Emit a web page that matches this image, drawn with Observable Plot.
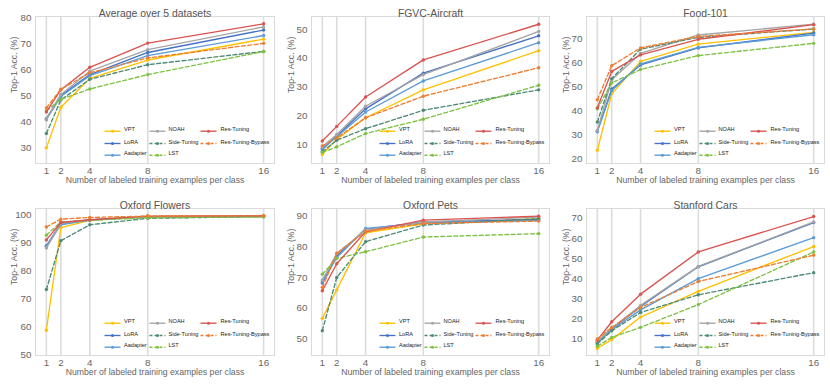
<!DOCTYPE html>
<html><head><meta charset="utf-8">
<script src="https://cdn.jsdelivr.net/npm/d3@7"></script>
<script src="https://cdn.jsdelivr.net/npm/@observablehq/plot@0.6"></script>
<style>
body{margin:0;background:#fff;}
#wrap{position:relative;width:830px;height:385px;font-family:"Liberation Sans",Arial,Helvetica,sans-serif;}
#wrap svg{position:absolute;}
</style></head><body><div id="wrap"></div>
<script>
// ---- data ----
const shots = [1, 2, 4, 8, 16];
const methods = ["VPT", "LoRA", "Aadapter", "NOAH", "Side-Tuning", "LST", "Res-Tuning", "Res-Tuning-Bypass"];
const colors = ["#FFC000", "#4472C4", "#5B9BD5", "#A5A5A5", "#4E8A76", "#7DC242", "#D9534F", "#ED7D31"];
const dashed = [false, false, false, false, true, true, false, true];
const titles = ["Average over 5 datasets", "FGVC-Aircraft", "Food-101", "Oxford Flowers", "Oxford Pets", "Stanford Cars"];
const xLabel = "Number of labeled training examples per class";
const yLabel = "Top-1 Acc. (%)";

// rows follow `methods` order; columns follow `shots`
const avgAcc = [
  [30.0, 45.6, 56.7, 63.7, 71.7],
  [41.2, 50.1, 58.1, 66.6, 75.2],
  [40.8, 49.7, 57.7, 65.4, 73.1],
  [41.0, 50.5, 59.4, 67.7, 76.4],
  [35.5, 48.4, 56.3, 61.9, 67.0],
  [44.2, 48.6, 52.6, 58.1, 67.0],
  [43.8, 52.3, 60.9, 70.2, 77.6],
  [45.3, 52.5, 58.8, 64.5, 70.1]
];
const aircraftAcc = [
  [6.5, 11.8, 19.3, 29.0, 42.6],
  [8.3, 13.0, 22.4, 34.8, 47.8],
  [8.6, 12.7, 21.3, 32.1, 45.4],
  [9.2, 13.5, 23.3, 34.3, 49.3],
  [7.5, 11.5, 15.5, 21.9, 29.0],
  [7.3, 9.2, 13.8, 18.8, 30.6],
  [11.2, 16.3, 26.5, 39.4, 51.8],
  [9.5, 12.3, 19.3, 26.8, 36.7]
];
const foodAcc = [
  [23.6, 47.2, 60.7, 67.9, 72.8],
  [31.6, 49.2, 59.2, 66.3, 72.5],
  [31.3, 48.5, 59.6, 66.5, 71.8],
  [31.9, 53.0, 64.0, 71.7, 76.2],
  [35.4, 53.5, 65.8, 70.7, 74.2],
  [40.9, 51.7, 57.3, 63.1, 68.2],
  [41.3, 56.5, 63.4, 69.9, 76.0],
  [44.7, 58.9, 66.3, 71.1, 74.2]
];
const flowersAcc = [
  [58.9, 95.5, 98.1, 99.4, 99.6],
  [89.0, 96.9, 98.2, 99.4, 99.6],
  [88.8, 96.5, 98.2, 99.4, 99.6],
  [88.2, 97.0, 98.2, 99.3, 99.5],
  [73.4, 90.8, 96.5, 98.8, 99.4],
  [92.8, 97.5, 98.1, 99.0, 99.3],
  [91.1, 97.3, 98.3, 99.6, 99.7],
  [95.7, 98.5, 99.1, 99.6, 99.7]
];
const petsAcc = [
  [56.7, 66.0, 84.6, 87.5, 89.2],
  [68.2, 77.0, 85.7, 88.1, 88.9],
  [68.6, 76.5, 86.0, 87.8, 88.6],
  [69.2, 77.8, 85.5, 88.1, 89.7],
  [52.7, 70.0, 81.7, 87.1, 89.2],
  [71.1, 76.2, 78.4, 83.2, 84.3],
  [65.7, 74.5, 84.9, 88.7, 90.0],
  [66.8, 77.9, 85.1, 87.6, 88.4]
];
const carsAcc = [
  [5.4, 9.7, 20.9, 33.7, 56.0],
  [8.3, 15.0, 26.2, 45.9, 67.9],
  [8.0, 14.6, 24.5, 40.0, 60.4],
  [8.7, 15.3, 26.7, 46.1, 68.2],
  [7.5, 14.1, 23.2, 32.0, 43.0],
  [6.4, 10.8, 15.8, 27.1, 53.3],
  [9.4, 18.6, 32.3, 53.3, 70.9],
  [10.0, 15.8, 25.7, 38.6, 51.7]
];
const yTicks = [
  [30, 40, 50, 60, 70, 80],
  [10, 20, 30, 40, 50],
  [20, 30, 40, 50, 60, 70],
  [50, 60, 70, 80, 90, 100],
  [50, 60, 70, 80, 90],
  [10, 20, 30, 40, 50, 60, 70]
];
const yDomains = [[24, 80.4], [3.4, 54.5], [18.1, 79.4], [49.9, 102.3], [44.6, 92.5], [1.8, 74.9]];
const allAcc = [avgAcc, aircraftAcc, foodAcc, flowersAcc, petsAcc, carsAcc];

// ---- layout ----
const panels = [
  {left: 0,   top: 0,   width: 280, ml: 35},
  {left: 280, top: 0,   width: 275, ml: 31},
  {left: 555, top: 0,   width: 275, ml: 31},
  {left: 0,   top: 192, width: 280, ml: 35},
  {left: 280, top: 192, width: 275, ml: 31},
  {left: 555, top: 192, width: 275, ml: 31}
];
const FONT = '"Liberation Sans", Arial, Helvetica, sans-serif';
const DASH = "4,2.4";
const legendCols = [{line: -162, text: -150.5}, {line: -117, text: -106}, {line: -66, text: -54}];
const legendRows = [-32.3, -20, -8.3];

function segmentSymbol(half) {
  return {draw(ctx) { ctx.moveTo(-half, 0); ctx.lineTo(half, 0); }};
}

const wrap = document.getElementById("wrap");
panels.forEach((p, k) => {
  const acc = allAcc[k];
  const marks = [
    Plot.gridX(shots, {stroke: "#dcdcdc", strokeWidth: 1.6, strokeOpacity: 1}),
    Plot.frame({stroke: "#dadada", strokeWidth: 1})
  ];
  methods.forEach((m, i) => {
    const rows = shots.map((s, j) => ({shot: s, acc: acc[i][j]}));
    marks.push(Plot.line(rows, {x: "shot", y: "acc", stroke: colors[i], strokeWidth: 1.35,
      strokeDasharray: dashed[i] ? DASH : null}));
    marks.push(Plot.dot(rows, {x: "shot", y: "acc", r: 1.7, fill: colors[i], stroke: "none"}));
  });
  // legend
  methods.forEach((m, i) => {
    const col = legendCols[Math.floor(i / 3)];
    const row = legendRows[i % 3];
    marks.push(Plot.dot([m], {frameAnchor: "bottom-right", dx: col.line, dy: row,
      symbol: segmentSymbol(8), r: 3, fill: "none", stroke: colors[i], strokeWidth: 1.35,
      strokeDasharray: dashed[i] ? "3,2" : null}));
    marks.push(Plot.dot([m], {frameAnchor: "bottom-right", dx: col.line, dy: row,
      r: 1.5, fill: colors[i], stroke: "none"}));
    marks.push(Plot.text([m], {frameAnchor: "bottom-right", dx: col.text, dy: row, text: d => d,
      textAnchor: "start", fontSize: 5.6, fill: "#222"}));
  });
  // title and axis labels
  marks.push(Plot.text([titles[k]], {frameAnchor: "top", dy: -6.5, text: d => d,
    fontSize: 10.4, fill: "#555"}));
  marks.push(Plot.text([xLabel], {frameAnchor: "bottom", dy: 19.5, text: d => d,
    fontSize: 8.7, fill: "#666"}));
  marks.push(Plot.text([yLabel], {frameAnchor: "left", dx: p.ml === 35 ? -21 : -20, dy: 3, rotate: -90,
    text: d => d, fontSize: 8.7, fill: "#666"}));

  const svg = Plot.plot({
    width: p.width, height: 192,
    marginLeft: p.ml, marginRight: 6, marginTop: 16, marginBottom: 29,
    style: {fontFamily: FONT, fontSize: "9.8px", color: "#666", background: "transparent", overflow: "visible"},
    x: {domain: [0.25, 16.75], ticks: shots, tickSize: 0, tickPadding: 4, label: null, tickFormat: d => String(d)},
    y: {domain: yDomains[k], ticks: yTicks[k], tickSize: 0, tickPadding: 4, label: null, tickFormat: d => String(d)},
    marks
  });
  svg.style.left = p.left + "px";
  svg.style.top = p.top + "px";
  wrap.appendChild(svg);
});
</script>
</body></html>
